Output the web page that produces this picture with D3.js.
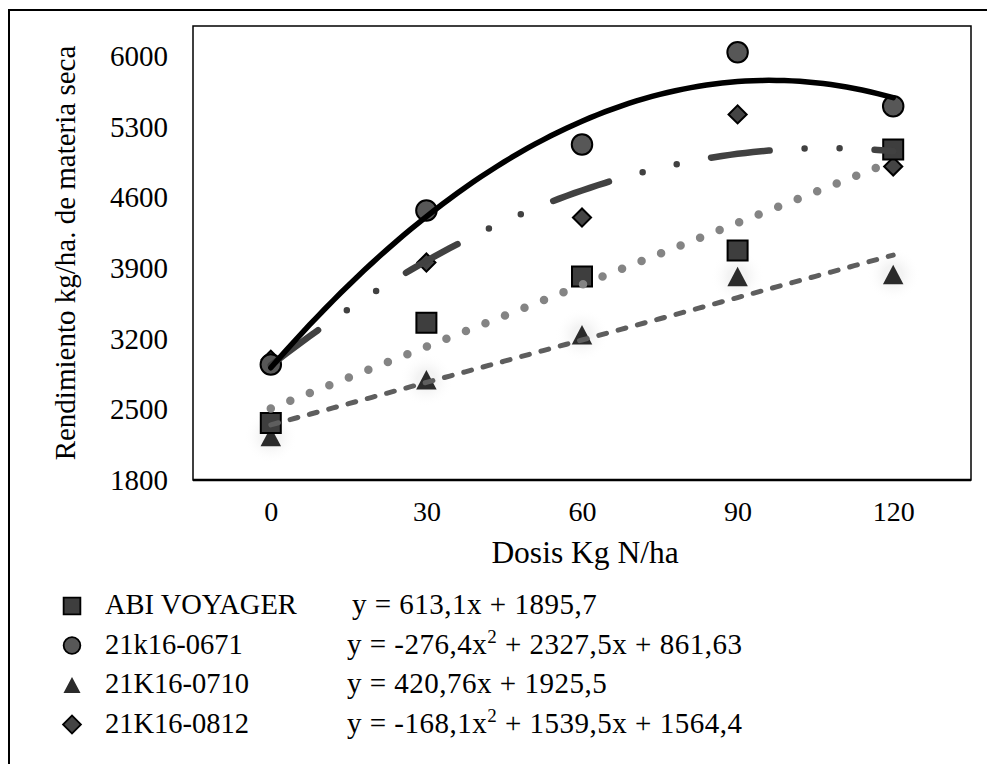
<!DOCTYPE html>
<html>
<head>
<meta charset="utf-8">
<script src="https://cdn.jsdelivr.net/npm/d3@7"></script>
<style>
  body { margin: 0; background: #fff; }
  svg { display: block; font-family: "Liberation Serif", "Times New Roman", serif; }
</style>
</head>
<body>
<div id="chart"></div>
<script>
// data
const doses = ["0", "30", "60", "90", "120"];
const abiVoyager = [2366, 3359, 3816, 4074, 5077];
const k16_0671  = [2945, 4471, 5126, 6040, 5504];
const k16_0710  = [2230, 2793, 3240, 3816, 3836];
const k16_0812  = [2991, 3955, 4401, 5424, 4908];
const yTicks = [1800, 2500, 3200, 3900, 4600, 5300, 6000];

const seriesNames = ["ABI VOYAGER", "21k16-0671", "21K16-0710", "21K16-0812"];
const equations = [
  "y = 613,1x + 1895,7",
  "y = -276,4x^2 + 2327,5x + 861,63",
  "y = 420,76x + 1925,5",
  "y = -168,1x^2 + 1539,5x + 1564,4"
];

// trendline coefficients [x², x, const], x = category index 1..5 (as Excel does)
const trendAbi  = [0, 613.1, 1895.7];
const trend0671 = [-276.4, 2327.5, 861.63];
const trend0710 = [0, 420.76, 1925.5];
const trend0812 = [-168.1, 1539.5, 1564.4];

const W = 987, H = 764;
const plot = { x0: 193, x1: 971, y0: 26, y1: 480 };

const svg = d3.select("#chart").append("svg")
  .attr("width", W)
  .attr("height", H);

// outer frame (runs off the right/bottom edge)
svg.append("rect")
  .attr("x", 9).attr("y", 10)
  .attr("width", 1010).attr("height", 800)
  .attr("fill", "none")
  .attr("stroke", "#000")
  .attr("stroke-width", 2);

// === scales ===
const xScale = d3.scalePoint().domain(doses).range([plot.x0, plot.x1]).padding(0.5);
const xTrend = d3.scaleLinear().domain([0.5, 5.5]).range([plot.x0, plot.x1]);
const yScale = d3.scaleLinear().domain([1800, 6300]).range([plot.y1, plot.y0]);

// soft halo behind the triangles
const defs = svg.append("defs");
const glow = defs.append("radialGradient").attr("id", "glow");
glow.append("stop").attr("offset", "35%").attr("stop-color", "#f0f0f0").attr("stop-opacity", 0.8);
glow.append("stop").attr("offset", "100%").attr("stop-color", "#ffffff").attr("stop-opacity", 0);

// Excel-like triangle: width = sqrt(size), a bit flatter than tall
const symbolTri = {
  draw(ctx, size) {
    const w = Math.sqrt(size), h = w * 0.95;
    ctx.moveTo(0, -h / 2);
    ctx.lineTo(w / 2, h / 2);
    ctx.lineTo(-w / 2, h / 2);
    ctx.closePath();
  }
};

const series = [
  { name: seriesNames[0], values: abiVoyager, trend: trendAbi,
    symbol: d3.symbolSquare, size: 400, legendSize: 280, rotate: 0,
    fill: "#3e3e3e", stroke: "#000",
    line: { color: "#848484", width: 8.5, dash: "0 21" } },
  { name: seriesNames[1], values: k16_0671, trend: trend0671,
    symbol: d3.symbolCircle, size: 330, legendSize: 220, rotate: 0,
    fill: "#575757", stroke: "#000",
    line: { color: "#000", width: 5.5, dash: null } },
  { name: seriesNames[2], values: k16_0710, trend: trend0710,
    symbol: symbolTri, size: 420, legendSize: 290, rotate: 0,
    fill: "#2b2b2b", stroke: "none",
    line: { color: "#5e5e5e", width: 5, dash: "8 12" } },
  { name: seriesNames[3], values: k16_0812, trend: trend0812,
    symbol: d3.symbolSquare, size: 165, legendSize: 160, rotate: 45,
    fill: "#444", stroke: "#000",
    line: { color: "#414141", width: 6.5, dash: "59 35 0 35 0 35" } }
];

// === plot frame ===
svg.append("rect")
  .attr("x", plot.x0).attr("y", plot.y0)
  .attr("width", plot.x1 - plot.x0).attr("height", plot.y1 - plot.y0)
  .attr("fill", "none")
  .attr("stroke", "#000")
  .attr("stroke-width", 1.5);
svg.append("line")
  .attr("x1", plot.x0).attr("x2", plot.x1)
  .attr("y1", plot.y1).attr("y2", plot.y1)
  .attr("stroke", "#000")
  .attr("stroke-width", 2.5);

// === axes ===
const gy = svg.append("g")
  .attr("transform", `translate(${plot.x0},0)`)
  .call(d3.axisLeft(yScale).tickValues(yTicks).tickFormat(d3.format("d")).tickSize(0).tickPadding(25));
const gx = svg.append("g")
  .attr("transform", `translate(0,${plot.y1})`)
  .call(d3.axisBottom(xScale).tickSize(0).tickPadding(21));
[gx, gy].forEach(g => {
  g.select(".domain").remove();
  g.selectAll("text")
    .attr("font-family", "Liberation Serif, Times New Roman, serif")
    .attr("fill", "#000");
});
gy.selectAll("text").attr("font-size", 29);
gx.selectAll("text").attr("font-size", 28);

svg.append("text")
  .attr("x", 585).attr("y", 563)
  .attr("text-anchor", "middle")
  .style("font-size", "31.5px")
  .text("Dosis Kg N/ha");

svg.append("text")
  .attr("transform", `translate(75,${(plot.y0 + plot.y1) / 2}) rotate(-90)`)
  .attr("text-anchor", "middle")
  .style("font-size", "29px")
  .text("Rendimiento kg/ha. de materia seca");

// === markers (all series first, trendlines on top) ===
const markers = svg.append("g");

markers.selectAll(".halo")
  .data(k16_0710)
  .enter()
  .append("circle")
    .attr("class", "halo")
    .attr("cx", (d, i) => xScale(doses[i]))
    .attr("cy", d => yScale(d))
    .attr("r", 27)
    .attr("fill", "url(#glow)");

[series[2], series[3], series[1], series[0]].forEach(s => {
  markers.append("g").selectAll("path")
    .data(s.values)
    .enter()
    .append("path")
      .attr("d", d3.symbol().type(s.symbol).size(s.size))
      .attr("transform", (d, i) => `translate(${xScale(doses[i])},${yScale(d)}) rotate(${s.rotate})`)
      .attr("fill", s.fill)
      .attr("stroke", s.stroke)
      .attr("stroke-width", 2);
});

// === trendlines ===
const xs = d3.range(1, 5.0001, 0.05);
const trendLine = d3.line()
  .x(d => xTrend(d[0]))
  .y(d => yScale(d[1]));

[series[2], series[0], series[3], series[1]].forEach(s => {
  const [a, b, c] = s.trend;
  const pts = xs.map(x => [x, a * x * x + b * x + c]);
  svg.append("path")
    .datum(pts)
    .attr("d", trendLine)
    .attr("fill", "none")
    .attr("stroke", s.line.color)
    .attr("stroke-width", s.line.width)
    .attr("stroke-linecap", "round")
    .attr("stroke-dasharray", s.line.dash);
});

// === legend ===
const legend = svg.append("g");
series.forEach((s, i) => {
  const base = 614 + i * 39.5;
  legend.append("path")
    .attr("d", d3.symbol().type(s.symbol).size(s.legendSize))
    .attr("transform", `translate(72,${base - 8}) rotate(${s.rotate})`)
    .attr("fill", s.fill)
    .attr("stroke", s.stroke)
    .attr("stroke-width", 1.8);

  legend.append("text")
    .attr("x", 105).attr("y", base)
    .style("font-size", "28.5px")
    .text(s.name);

  const parts = equations[i].split("^2");
  const eq = legend.append("text")
    .attr("x", i === 0 ? 352 : 347).attr("y", base)
    .style("font-size", "29px")
    .style("letter-spacing", "0.5px");
  eq.append("tspan").text(parts[0]);
  if (parts.length > 1) {
    eq.append("tspan").attr("dy", -11).style("font-size", "19px").text("2");
    eq.append("tspan").attr("dy", 11).text(parts[1]);
  }
});
</script>
</body>
</html>
